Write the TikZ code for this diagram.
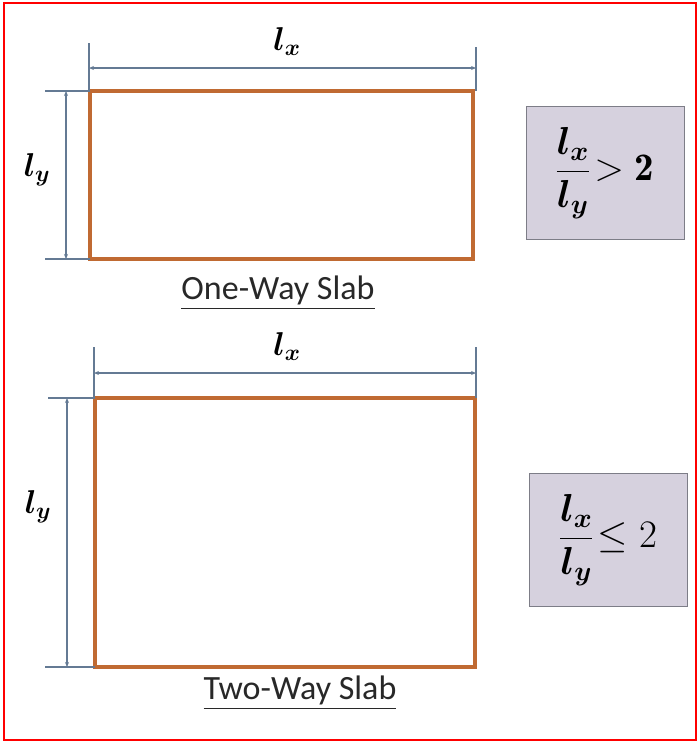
\RequirePackage{fix-cm}
\documentclass[tikz,border=0pt]{standalone}
\usepackage{amsmath}
\usepackage{fontspec}
\setsansfont{Carlito}
\usetikzlibrary{arrows.meta}
\definecolor{slabedge}{RGB}{192,106,50}
\definecolor{dimline}{RGB}{100,122,148}
\definecolor{boxfill}{RGB}{214,209,222}
\definecolor{boxedge}{RGB}{125,125,135}
\definecolor{captext}{RGB}{40,40,40}
\begin{document}
\begin{tikzpicture}[x=1pt, y=-1pt, >={Stealth[length=5pt,width=4pt]},
  slab/.style={draw=slabedge, line width=3.5pt},
  extline/.style={draw=dimline, line width=1.3pt},
  dimarrow/.style={<->, draw=dimline, line width=1.3pt},
  dimlabel/.style={font=\fontsize{33}{35}\selectfont},
  ratiobox/.style={draw=boxedge, fill=boxfill, line width=1pt, minimum width=158pt, minimum height=133pt, font=\fontsize{39}{41}\selectfont},
  caption/.style={text=captext, font=\sffamily\fontsize{34}{36}\selectfont}]
  \useasboundingbox (0,0) rectangle (698,742);
  \draw[red, line width=1.5pt] (4,3) rectangle (696,740);
  % top panel: one-way slab
  \coordinate (oa) at (90,91);
  \coordinate (ob) at (473,259);
  \draw[slab] (oa) rectangle (ob);
  \coordinate (oxl) at (89,43);   \coordinate (oxr) at (476,47);
  \coordinate (oyt) at (45,91);   \coordinate (oyb) at (45,259);
  \draw[extline] (oxl) -- (oxl |- oa);
  \draw[extline] (oxr) -- (oxr |- oa);
  \draw[extline] (oyt) -- (oa);
  \draw[extline] (oyb) -- (oa |- ob);
  \draw[dimarrow] (89,68) -- (476,68);
  \draw[dimarrow] (66,91) -- (66,259);
  \node[dimlabel] (olx) at (287,42) {$\boldsymbol{l_x}$};
  \node[dimlabel] (oly) at (37,170) {$\boldsymbol{l_y}$};
  \node[caption] (ocap) at (278,293) {\underline{One-Way Slab}};
  \node[ratiobox] (orat) at (605,173) {$\dfrac{\boldsymbol{l_x}}{\boldsymbol{l_y}}\!>\mathbf{2}$};
  % bottom panel: two-way slab
  \coordinate (ta) at (95,398);
  \coordinate (tb) at (475,667);
  \draw[slab] (ta) rectangle (tb);
  \coordinate (txl) at (94,347);  \coordinate (txr) at (476,347);
  \coordinate (tyt) at (48,398);  \coordinate (tyb) at (45,667);
  \draw[extline] (txl) -- (txl |- ta);
  \draw[extline] (txr) -- (txr |- ta);
  \draw[extline] (tyt) -- (ta);
  \draw[extline] (tyb) -- (ta |- tb);
  \draw[dimarrow] (94,373) -- (476,373);
  \draw[dimarrow] (67,398) -- (67,667);
  \node[dimlabel] (tlx) at (287,347) {$\boldsymbol{l_x}$};
  \node[dimlabel] (tly) at (38,507) {$\boldsymbol{l_y}$};
  \node[caption] (tcap) at (300,693) {\underline{Two-Way Slab}};
  \node[ratiobox] (trat) at (608,540) {$\dfrac{\boldsymbol{l_x}}{\boldsymbol{l_y}}\!\leq 2$};
\end{tikzpicture}
\end{document}
